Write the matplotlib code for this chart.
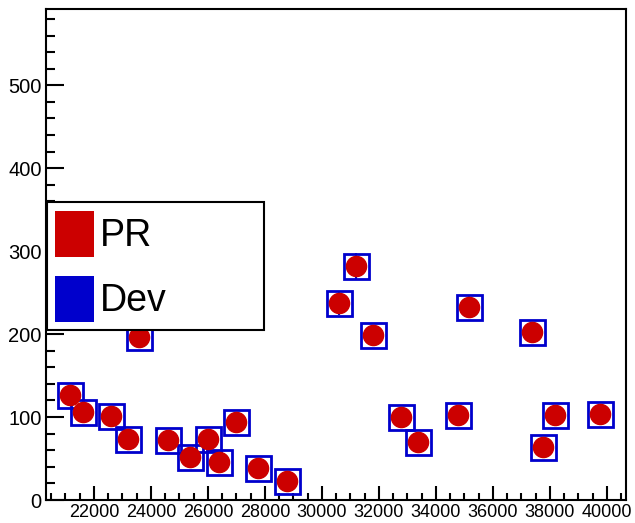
import numpy as np
import matplotlib
matplotlib.use('Agg')
import matplotlib.pyplot as plt
from matplotlib.patches import Patch, Rectangle
from matplotlib.ticker import MultipleLocator

plt.rcParams['font.family'] = ['Liberation Sans', 'DejaVu Sans']

# data
run_x = [21158, 21614, 22597, 23193, 23579, 24597, 25369, 26000, 26386, 26983, 27755, 28772,
         30597, 31193, 31790, 32773, 33369, 34773, 35159, 37369, 37755, 38176, 39755]
pr_y = [127, 106, 101, 74, 197, 72, 52, 74, 46, 94, 38, 23,
        237, 282, 199, 100, 70, 102, 233, 202, 64, 103, 104]
dev_y = [127, 106, 101, 74, 197, 72, 52, 74, 46, 94, 38, 23,
         237, 282, 199, 100, 70, 102, 233, 202, 64, 103, 104]
dev_err = [9, 8, 8, 7, 12, 7, 6, 7, 6, 8, 5, 4,
           14, 16, 12, 8, 7, 8, 13, 12, 7, 8, 8]
x_ticks = [22000, 24000, 26000, 28000, 30000, 32000, 34000, 36000, 38000, 40000]
y_ticks = [0, 100, 200, 300, 400, 500]

red = '#cc0000'
blue = '#0000cc'

W, H = 635, 523
fig = plt.figure(figsize=(W/100, H/100), dpi=100)
ax = fig.add_axes([46/W, 1-500/H, (626-46)/W, (500-9)/H])

ax.errorbar(run_x, dev_y, yerr=dev_err, fmt='s', ms=18, mfc='none', mec=blue, mew=2,
            ecolor=blue, elinewidth=1.5, capsize=0, zorder=3)
ax.plot(run_x, pr_y, 'o', ms=14.5, color=red, mec=red, zorder=4)

ax.set_xlim(20316, 40667)
ax.set_ylim(0, 592)
ax.set_xticks(x_ticks)
ax.set_yticks(y_ticks)
ax.xaxis.set_minor_locator(MultipleLocator(500))
ax.yaxis.set_minor_locator(MultipleLocator(20))
ax.tick_params(axis='x', which='major', direction='in', length=10, width=1.5, labelsize=13, pad=3)
ax.tick_params(axis='x', which='minor', direction='in', length=5, width=1.5)
ax.tick_params(axis='y', which='major', direction='in', length=12.7, width=1.5, labelsize=14.5, pad=3)
ax.tick_params(axis='y', which='minor', direction='in', length=6.5, width=1.5)
for s in ax.spines.values():
    s.set_linewidth(1.5)

# legend box
fig.patches.append(Rectangle((47/W, 1-330/H), (264-47)/W, (330-202)/H, transform=fig.transFigure,
                             facecolor='white', edgecolor='black', linewidth=1.5, zorder=10))
handles = [Patch(facecolor=red, edgecolor='none'), Patch(facecolor=blue, edgecolor='none')]
leg = fig.legend(handles, ['PR', 'Dev'], loc='upper left', bbox_to_anchor=(55/W, 1-211/H),
                 bbox_transform=fig.transFigure, frameon=False, fontsize=27,
                 handlelength=1.04, handleheight=1.51, handletextpad=0.16,
                 borderpad=0, borderaxespad=0, labelspacing=0.5)
leg.set_zorder(11)

fig.savefig('out.png', dpi=100)
